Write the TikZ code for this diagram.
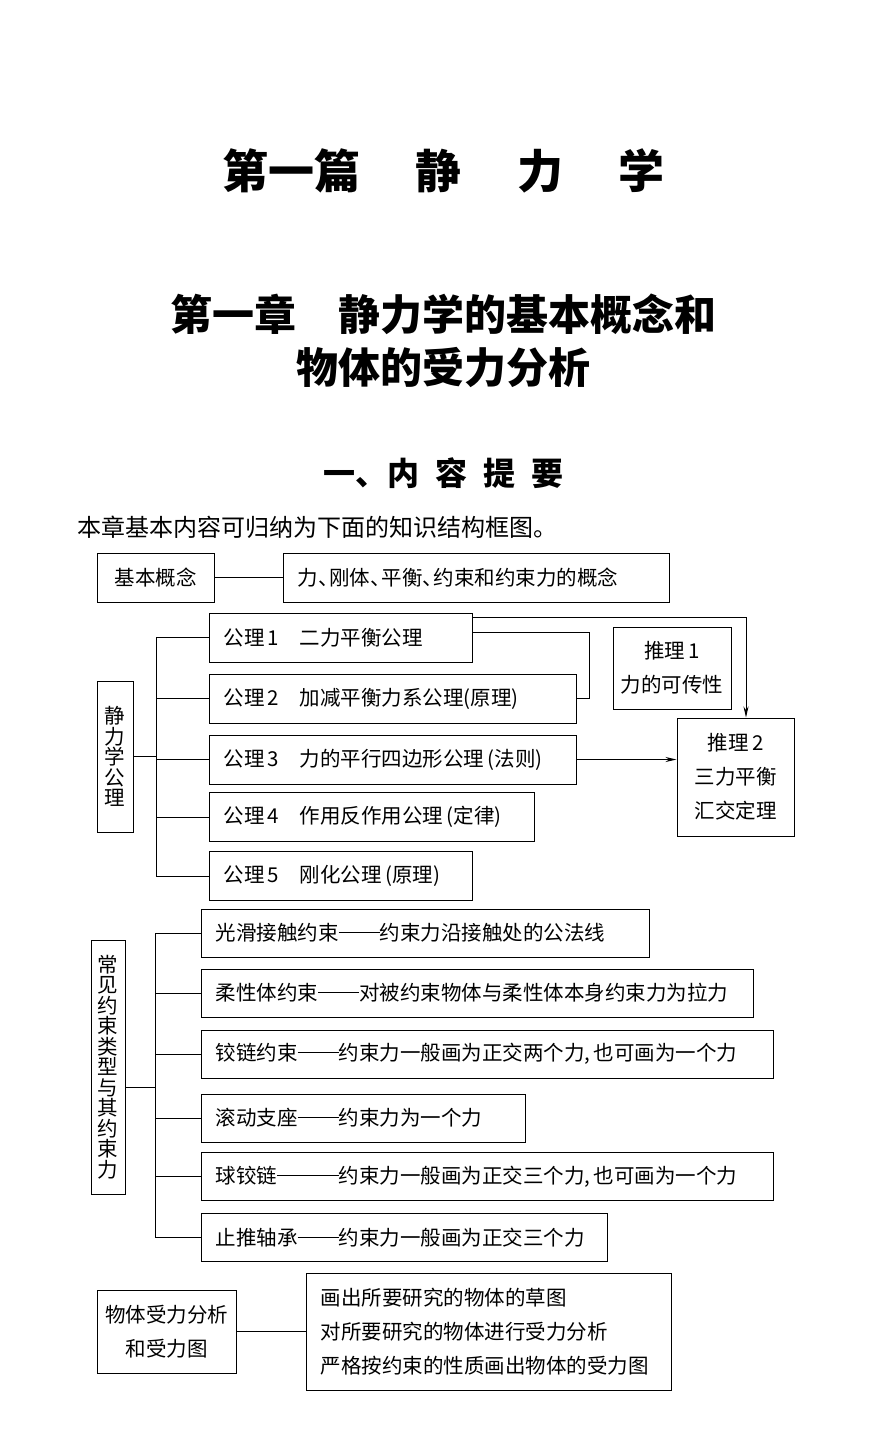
\documentclass[tikz,border=0pt]{standalone}
\usepackage{fontspec}
\setmainfont{Noto Sans CJK SC}
\usetikzlibrary{arrows.meta,positioning}

\newcommand{\dun}{、\kern-0.45em}
\newcommand{\pzh}[1]{\rule[0.36em]{#1em}{0.05em}}
\newcommand{\boxfont}{\fontsize{20.5pt}{24pt}\selectfont}
\newcommand{\vfont}{\fontsize{20.5pt}{20.5pt}\selectfont}
\newcommand{\linefont}{\fontsize{20.5pt}{34pt}\selectfont}

\tikzset{
  frame/.style={draw, line width=1pt, inner sep=0pt},
  lbox/.style={frame, anchor=west, minimum height=49pt, inner xsep=14pt,
               text width=#1, align=left, font=\boxfont},
  vbox/.style={frame, align=center, font=\vfont},
  cbox/.style={frame, align=center, font=\linefont},
  link/.style={line width=1pt},
  tip/.style={-{Stealth[length=11pt,width=5pt]}},
}

\begin{document}
\begin{tikzpicture}[x=1pt, y=-1pt]
  \path[use as bounding box, fill=white] (0,0) rectangle (884,1437);

  % titles
  \node[inner sep=0pt, font=\fontsize{46pt}{50pt}\selectfont\bfseries] (part) at (443.5,171)
    {第一篇\hspace{1.2em}静\hspace{1.2em}力\hspace{1.2em}学};
  \node[inner sep=0pt, font=\fontsize{42pt}{46pt}\selectfont\bfseries] (chap1) at (443,314)
    {第一章\hspace{1em}静力学的基本概念和};
  \node[inner sep=0pt, font=\fontsize{42pt}{46pt}\selectfont\bfseries] (chap2) at (443,368)
    {物体的受力分析};
  \node[inner sep=0pt, font=\fontsize{32pt}{36pt}\selectfont\bfseries] (sec) at (443,473)
    {一、内\hspace{0.5em}容\hspace{0.5em}提\hspace{0.5em}要};
  \node[inner sep=0pt, anchor=west, font=\fontsize{24pt}{28pt}\selectfont] (intro) at (77,527)
    {本章基本内容可归纳为下面的知识结构框图。};

  % basic concepts
  \node[frame, minimum width=117pt, minimum height=49pt, font=\boxfont] (base) at (155.5,577.5) {基本概念};
  \node[lbox=358pt] (concept) at (283,577.5) {力\dun 刚体\dun 平衡\dun 约束和约束力的概念};
  \draw[link] (base) -- (concept);

  % axioms
  \node[vbox, minimum width=36pt, minimum height=151pt] (axioms) at (115,756.5) {静\\力\\学\\公\\理};
  \node[lbox=235pt] (a1) at (209,637.5) {公理\,1\hspace{1em}二力平衡公理};
  \node[lbox=339pt] (a2) at (209,698.5) {公理\,2\hspace{1em}加减平衡力系公理(原理)};
  \node[lbox=339pt] (a3) at (209,759.5) {公理\,3\hspace{1em}力的平行四边形公理\,(法则)};
  \node[lbox=297pt] (a4) at (209,817) {公理\,4\hspace{1em}作用反作用公理\,(定律)};
  \node[lbox=235pt] (a5) at (209,876) {公理\,5\hspace{1em}刚化公理\,(原理)};

  \draw[link] (axioms.east) -- ++(23,0) coordinate (j1);
  \foreach \n in {a1,a2,a3,a4,a5}
    \draw[link] (\n.west) -| (j1);

  % corollaries
  \node[cbox, minimum width=118pt, minimum height=82pt] (r1) at (672,668) {推理\,1\\力的可传性};
  \node[cbox, minimum width=117pt, minimum height=118pt] (r2) at (735.5,777) {推理\,2\\三力平衡\\汇交定理};

  \draw[link, tip] ([yshift=-5pt]a1.north east) -| ([xshift=10.5pt]r2.north);
  \draw[link] ([yshift=5.5pt]a1.east) -- ++(116,0) |- (a2.east);
  \draw[link, tip] (a3.east) -- (a3.east -| r2.west);

  % constraints
  \node[vbox, minimum width=34pt, minimum height=254pt] (cons) at (108,1067)
    {常\\见\\约\\束\\类\\型\\与\\其\\约\\束\\力};
  \node[lbox=420pt, minimum height=48pt] (c1) at (201,933) {光滑接触约束\pzh{2}约束力沿接触处的公法线};
  \node[lbox=524pt, minimum height=48pt] (c2) at (201,993) {柔性体约束\pzh{2}对被约束物体与柔性体本身约束力为拉力};
  \node[lbox=544pt, minimum height=48pt] (c3) at (201,1054) {铰链约束\pzh{2}约束力一般画为正交两个力,\,也可画为一个力};
  \node[lbox=296pt, minimum height=48pt] (c4) at (201,1118) {滚动支座\pzh{2}约束力为一个力};
  \node[lbox=544pt, minimum height=48pt] (c5) at (201,1176.5) {球铰链\pzh{3}约束力一般画为正交三个力,\,也可画为一个力};
  \node[lbox=378pt, minimum height=48pt] (c6) at (201,1237.5) {止推轴承\pzh{2}约束力一般画为正交三个力};

  \draw[link] ([yshift=-20pt]cons.east) -- ++(30,0) coordinate (j2);
  \foreach \n in {c1,c2,c3,c4,c5,c6}
    \draw[link] (\n.west) -| (j2);

  % force analysis
  \node[cbox, minimum width=139pt, minimum height=83pt] (fa) at (166.5,1331.5) {物体受力分析\\和受力图};
  \node[frame, anchor=west, minimum height=117pt, inner xsep=14pt, text width=337pt,
        align=left, font=\linefont] (fb) at (306,1331.5)
    {画出所要研究的物体的草图\\对所要研究的物体进行受力分析\\严格按约束的性质画出物体的受力图};
  \draw[link] (fa) -- (fb);
\end{tikzpicture}
\end{document}
